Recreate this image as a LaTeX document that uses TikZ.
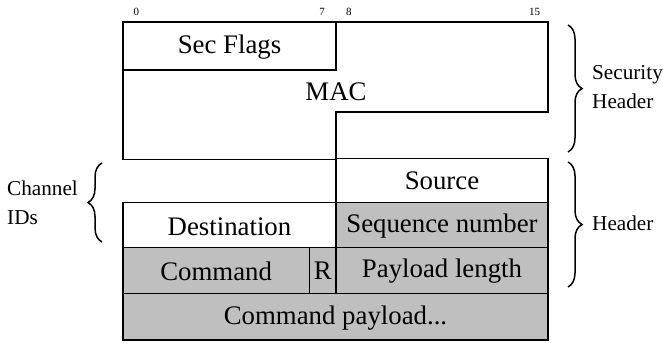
\documentclass[tikz,border=0pt]{standalone}
\usepackage{fontspec}
\setmainfont{Liberation Serif}
\usetikzlibrary{decorations.pathreplacing}
\begin{document}
\begin{tikzpicture}[x=1pt,y=-1pt,
  field/.style={draw=black, line width=1.2pt, line join=miter},
  shaded/.style={field, fill=black!25},
  blank/.style={field, fill=white},
  lbl/.style={font=\fontsize{26.8}{32}\selectfont, inner sep=0pt},
  bitno/.style={font=\fontsize{11}{13}\selectfont, inner sep=0pt},
  note/.style={font=\fontsize{21.2}{29}\selectfont, inner sep=0pt, align=left},
  grp/.style={line width=1.5pt, decorate, decoration={brace, amplitude=14pt}}
]
\useasboundingbox (0,0) rectangle (663,345);

% column edges of the 16-bit rows
\def\xL{123}\def\xR{548}\def\xM{336}\def\xS{309.4}

% security header
\draw[blank] (\xL,22) rectangle (\xM,70);
\draw[field] (\xM,22) -- (\xR,22) -- (\xR,112) -- (\xM,112) -- (\xM,159.5) -- (\xL,159.5) -- (\xL,70);
\node[lbl] (secflags) at (229.5,47) {Sec Flags};
\node[lbl] (mac) at (336,91.5) {MAC};

% header
\draw[blank]  (\xM,158.5) rectangle (\xR,202.5);
\draw[blank]  (\xL,202.5) rectangle (\xM,247.5);
\draw[shaded] (\xM,202.5) rectangle (\xR,247.5);
\draw[shaded] (\xL,247.5) rectangle (\xS,293.3);
\draw[shaded] (\xS,247.5) rectangle (\xM,293.3);
\draw[shaded] (\xM,247.5) rectangle (\xR,293.3);
\draw[shaded] (\xL,293.3) rectangle (\xR,340);

\node[lbl] (src)  at (442,181.2) {Source};
\node[lbl] (dst)  at (229.5,226.5) {Destination};
\node[lbl] (seq)  at (442,226.3) {Sequence number};
\node[lbl] (cmd)  at (216.2,271) {Command};
\node[lbl] (rbit) at (322.7,271) {R};
\node[lbl] (plen) at (442,271) {Payload length};
\node[lbl] (cpay) at (335.5,318.5) {Command payload...};

% bit numbers
\node[bitno] (b0)  at (136.3,12) {0};
\node[bitno] (b7)  at (322.2,12) {7};
\node[bitno] (b8)  at (348.8,12) {8};
\node[bitno] (b15) at (534.7,12) {15};

% group braces
\coordinate (shTop) at (568,25);
\coordinate (shBot) at (568,152);
\coordinate (hTop)  at (568,162);
\coordinate (hBot)  at (568,287);
\coordinate (cTop)  at (102,163);
\coordinate (cBot)  at (102,242);
\draw[grp] (shTop) -- (shBot);
\draw[grp] (hTop) -- (hBot);
\draw[grp] (cBot) -- (cTop);

% group names (base anchor sits on the last line)
\node[note, anchor=base west] (sh) at (592,108) {Security\\Header};
\node[note, anchor=base west] (hd) at (592,230) {Header};
\node[note, anchor=base west] (ch) at (7,224) {Channel\\IDs};
\end{tikzpicture}
\end{document}
